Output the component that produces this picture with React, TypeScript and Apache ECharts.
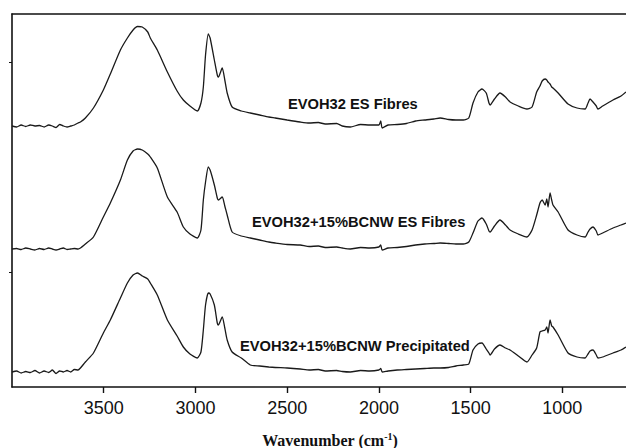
import React, { useEffect, useRef } from "react";
import * as echarts from "echarts";

// Wavenumber (cm^-1) sampling positions, shared by all three spectra
const wavenumbers = [
  4000, 3975, 3950, 3925, 3900, 3875, 3850, 3825, 3800, 3780,
  3760, 3740, 3720, 3700, 3680, 3660, 3640, 3627, 3600, 3556,
  3502, 3464, 3409, 3371, 3340, 3316, 3290, 3260, 3246, 3208,
  3153, 3100, 3066, 3030, 2990, 2970, 2957, 2945, 2930, 2920,
  2897, 2881, 2875, 2854, 2840, 2827, 2800, 2750, 2701, 2650,
  2600, 2565, 2500, 2429, 2380, 2330, 2293, 2230, 2200, 2156,
  2100, 2050, 2000, 1990, 1982, 1950, 1900, 1850, 1800, 1750,
  1700, 1666, 1620, 1580, 1540, 1510, 1487, 1460, 1438, 1415,
  1400, 1394, 1370, 1340, 1310, 1285, 1240, 1193, 1165, 1140,
  1122, 1110, 1094, 1085, 1078, 1067, 1058, 1051, 1023, 969,
  920, 876, 860, 849, 833, 815, 806, 780, 724, 680, 653,
];

// Absorbance (a.u., vertically offset traces)
const evohEsFibres = [
  261, 260, 262, 260.5, 262, 261, 261.5, 260, 262, 261,
  259.5, 262.5, 261, 260, 261, 262, 264, 265, 269, 279,
  297, 313, 337, 349, 357, 360.5, 360, 355, 349, 337,
  315, 296, 287, 281, 276, 284, 300, 332, 353, 349,
  327, 312, 310, 319, 307, 294, 280, 276, 274, 272,
  270, 269, 267, 265, 264, 264.5, 263, 263.5, 261, 260,
  262.5, 262, 262, 266, 259, 262, 262.5, 263.5, 266, 267,
  268, 269, 267.5, 267, 267, 269, 284, 295, 298, 294,
  284, 282, 288, 294, 290, 285, 281, 278, 280, 295,
  301, 306, 308, 307, 305, 303, 300, 299, 294, 283,
  279, 278, 284, 288, 285, 281, 278, 281, 287, 291, 295,
];

const bcnwEsFibres = [
  138, 138.5, 137.5, 139, 138, 137, 138.5, 137.5, 139, 138,
  137, 138, 139, 137.5, 138, 138.5, 138, 139, 143, 150,
  170, 184, 207, 227, 236, 238, 237, 233, 230, 219,
  190, 175, 160, 153, 149, 157, 187, 205, 220, 217,
  202, 189, 187, 190, 181, 172, 155, 151, 149, 147,
  145, 144, 142.5, 142, 140.5, 141, 139.5, 140, 139, 138,
  139.5, 139, 140, 142, 137, 139, 139.5, 140.5, 142, 143,
  143.5, 144, 143.5, 143, 143, 145, 154, 166, 169, 163,
  156, 155, 161, 167, 162, 157, 153, 150, 157, 172,
  184, 187, 182, 188, 180, 194, 187, 182, 175, 157,
  152, 150, 155, 158, 160, 156, 152, 154, 159, 162, 164,
];

const bcnwPrecipitated = [
  15, 16, 14, 15.5, 14.5, 16.5, 14, 16, 14.5, 17,
  13.5, 16, 15, 16.5, 15, 17.5, 17, 19, 25, 34,
  54, 67, 89, 104, 112, 114, 111, 108, 104, 92,
  67, 51, 40, 33, 29, 35, 57, 82, 94, 93,
  82, 64, 62, 70, 59, 47, 35, 29, 22, 21,
  20, 19.5, 19, 18, 17, 17.5, 16, 16.5, 15.5, 15,
  16.5, 16, 17, 18.5, 15, 16, 17, 17.5, 18, 18.5,
  19, 19, 19.5, 21, 22, 23, 37, 43, 44, 38,
  34, 32, 38, 42, 39, 37, 31, 25, 32, 39,
  55, 56, 57, 60, 54, 67, 61, 60, 52, 34,
  30, 29, 33, 36, 37, 32, 29, 30, 34, 37, 40,
];

const seriesNames = [
  "EVOH32 ES Fibres",
  "EVOH32+15%BCNW ES Fibres",
  "EVOH32+15%BCNW Precipitated",
];

const xTickValues = [3500, 3000, 2500, 2000, 1500, 1000];
const yTickValues = [115, 325];

export default function App() {
  const ref = useRef<HTMLDivElement>(null);

  useEffect(() => {
    if (!ref.current) return;
    const chart = echarts.init(ref.current, null, { renderer: "svg" });
    const traces = [evohEsFibres, bcnwEsFibres, bcnwPrecipitated];
    const ink = "#111";
    const sans = 'Arial, "Liberation Sans", sans-serif';
    const serif = '"Times New Roman", "Liberation Serif", serif';
    const labelPos = [
      [288, 104],
      [252, 222],
      [240, 346],
    ];

    chart.setOption({
      animation: false,
      backgroundColor: "#fff",
      grid: {
        left: 12,
        right: 0,
        top: 14,
        bottom: 61,
        containLabel: false,
        outerBoundsMode: "none",
      },
      xAxis: [
        {
          type: "value",
          min: 653,
          max: 4000,
          inverse: true,
          name: "{a|Wavenumber (cm}{s|-1}{a|)}",
          nameLocation: "middle",
          nameGap: 42,
          nameTextStyle: {
            padding: [0, 0, 0, 22],
            rich: {
              a: { fontFamily: serif, fontSize: 16, fontWeight: "bold", color: ink, lineHeight: 22 },
              s: {
                fontFamily: serif,
                fontSize: 10,
                fontWeight: "bold",
                color: ink,
                lineHeight: 10,
                verticalAlign: "top",
                padding: [2, 0, 0, 0],
              },
            },
          },
          axisLine: { show: true, onZero: false, lineStyle: { color: ink, width: 1.6 } },
          axisTick: {
            show: true,
            length: 6,
            inside: false,
            customValues: xTickValues,
            lineStyle: { color: ink, width: 1.4 },
          },
          axisLabel: {
            customValues: xTickValues,
            formatter: (v: number) => String(v),
            margin: 12,
            fontFamily: sans,
            fontSize: 18,
            color: ink,
          },
          splitLine: { show: false },
        },
        {
          type: "value",
          position: "top",
          min: 653,
          max: 4000,
          inverse: true,
          axisLine: { show: true, onZero: false, lineStyle: { color: ink, width: 1.6 } },
          axisTick: { show: false },
          axisLabel: { show: false },
          splitLine: { show: false },
        },
      ],
      yAxis: {
        type: "value",
        min: 0,
        max: 373,
        axisLine: { show: true, onZero: false, lineStyle: { color: ink, width: 1.6 } },
        axisTick: {
          show: true,
          length: 3,
          inside: false,
          customValues: yTickValues,
          lineStyle: { color: ink, width: 1 },
        },
        axisLabel: { show: false },
        splitLine: { show: false },
      },
      series: traces.map((vals, k) => ({
        name: seriesNames[k],
        type: "line",
        xAxisIndex: 0,
        showSymbol: false,
        symbol: "none",
        smooth: 0.2,
        clip: true,
        lineStyle: { color: "#1a1a1a", width: 1.3 },
        data: wavenumbers.map((w, i) => [w, vals[i]]),
      })),
      graphic: seriesNames.map((name, k) => ({
        type: "text",
        x: labelPos[k][0],
        y: labelPos[k][1],
        style: {
          text: name,
          font: "bold 14.7px " + sans,
          fill: ink,
          verticalAlign: "middle",
          align: "left",
        },
      })),
    });

    return () => chart.dispose();
  }, []);

  return (
    <div
      ref={ref}
      style={{ position: "fixed", left: 0, top: 0, width: 626, height: 448, background: "#fff" }}
    />
  );
}
